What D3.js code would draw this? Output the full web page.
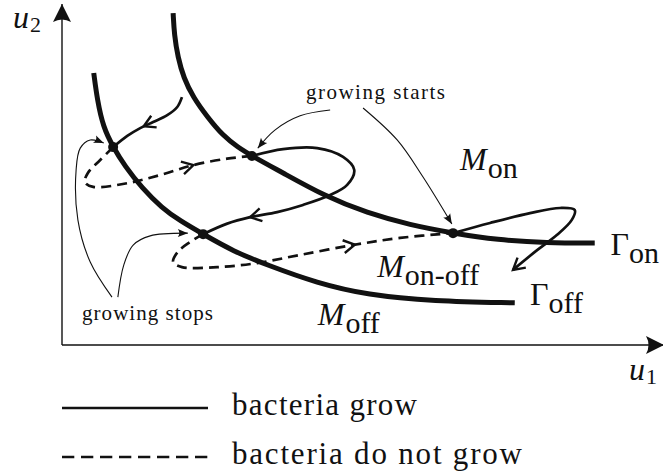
<!DOCTYPE html>
<html>
<head>
<meta charset="utf-8">
<script src="https://cdn.jsdelivr.net/npm/d3@7/dist/d3.min.js"></script>
<style>
  body { margin: 0; background: #fff; }
  svg { display: block; }
</style>
</head>
<body>
<svg id="chart" width="663" height="472"></svg>
<script>
/* global d3 */

// switching curves (u1, u2)
const gammaOn = [[1.89, 9.76], [1.91, 9.12], [1.97, 8.47], [2.07, 7.85], [2.23, 7.29], [2.47, 6.71],
  [2.74, 6.15], [2.99, 5.82], [3.23, 5.56], [3.76, 5.06], [4.47, 4.38], [5.19, 3.88], [5.92, 3.53],
  [6.65, 3.29], [7.40, 3.09], [8.25, 3.00], [9.06, 3.00]]
const gammaOff = [[0.54, 8.00], [0.60, 7.21], [0.70, 6.41], [0.87, 5.82], [1.07, 5.26], [1.36, 4.62],
  [1.70, 4.03], [2.01, 3.65], [2.40, 3.26], [2.91, 2.76], [3.49, 2.35], [4.34, 1.82], [5.19, 1.47],
  [6.31, 1.29], [7.70, 1.24]]

// trajectory pieces, solid = bacteria grow, dashed = do not grow
const trajA = [[2.04, 7.29], [1.96, 7.00], [1.79, 6.76], [1.55, 6.56], [1.33, 6.38], [1.11, 6.15], [0.87, 5.82]]
const trajB = [[0.87, 5.82], [0.65, 5.44], [0.44, 5.06], [0.39, 4.79], [0.53, 4.65], [1.11, 4.76],
  [1.67, 5.00], [2.23, 5.29], [2.81, 5.48], [3.23, 5.56]]
const trajC = [[3.23, 5.56], [3.76, 5.76], [4.34, 5.79], [4.78, 5.53], [4.97, 5.15], [4.85, 4.71],
  [4.56, 4.41], [4.10, 4.12], [3.66, 3.91], [3.20, 3.76], [2.81, 3.57], [2.40, 3.26]]
const trajD = [[2.40, 3.26], [2.18, 3.03], [1.97, 2.74], [1.89, 2.44], [2.04, 2.29], [2.64, 2.29],
  [3.32, 2.41], [4.05, 2.65], [4.95, 2.94], [5.75, 3.15], [6.65, 3.29]]
const trajE = [[6.65, 3.29], [7.28, 3.59], [7.96, 3.88], [8.47, 4.03], [8.72, 3.97], [8.67, 3.68],
  [8.42, 3.24], [8.08, 2.79], [7.67, 2.21]]

const switchPoints = [[0.87, 5.82], [3.23, 5.56], [2.40, 3.26], [6.65, 3.29]]

// annotation pointers
const startsPointers = [
  [[4.56, 6.91], [4.05, 6.74], [3.62, 6.32], [3.33, 5.79]],
  [[5.12, 6.97], [5.70, 6.03], [6.14, 4.94], [6.63, 3.56]]
]
const stopsPointers = [
  [[0.85, 1.41], [0.48, 2.44], [0.27, 3.68], [0.24, 5.15], [0.31, 5.79], [0.48, 6.03], [0.71, 5.94]],
  [[0.95, 1.41], [1.05, 2.35], [1.21, 2.94], [1.50, 3.21], [2.14, 3.29]]
]

const regionLabels = [
  { main: 'M', sub: 'on', at: [6.77, 5.15], italic: true },
  { main: 'M', sub: 'on-off', at: [5.36, 2.00], italic: true },
  { main: 'M', sub: 'off', at: [4.35, 0.59], italic: true },
  { main: 'Γ', sub: 'on', at: [9.33, 2.65], italic: false },
  { main: 'Γ', sub: 'off', at: [7.96, 1.18], italic: false }
]
const legendItems = ['bacteria grow', 'bacteria do not grow']

const svg = d3.select('#chart')
const font = "'Liberation Serif'"

const x = d3.scaleLinear().domain([0, 10]).range([62, 650])
const y = d3.scaleLinear().domain([0, 10]).range([345, 5])

const line = d3.line()
  .x(d => x(d[0]))
  .y(d => y(d[1]))
  .curve(d3.curveCatmullRom.alpha(0.5))
const smooth = d3.line()
  .x(d => x(d[0]))
  .y(d => y(d[1]))
  .curve(d3.curveBasis)

const defs = svg.append('defs')
defs.append('marker')
  .attr('id', 'axisHead')
  .attr('markerUnits', 'userSpaceOnUse')
  .attr('viewBox', '-19 -10 20 20')
  .attr('refX', 0).attr('refY', 0)
  .attr('markerWidth', 20).attr('markerHeight', 20)
  .attr('orient', 'auto')
  .append('path')
  .attr('d', 'M0,0 L-18,-9 Q-13,0 -18,9 Z')
  .attr('fill', '#111')
defs.append('marker')
  .attr('id', 'thinHead')
  .attr('markerUnits', 'userSpaceOnUse')
  .attr('viewBox', '-11 -5 12 10')
  .attr('refX', 0).attr('refY', 0)
  .attr('markerWidth', 12).attr('markerHeight', 10)
  .attr('orient', 'auto')
  .append('path')
  .attr('d', 'M0,0 L-10,-4 Q-7,0 -10,4 Z')
  .attr('fill', '#111')

// axes
svg.append('line')
  .attr('x1', x(0)).attr('y1', y(0)).attr('x2', x(0)).attr('y2', 4)
  .attr('stroke', '#111').attr('stroke-width', 1.4)
  .attr('marker-end', 'url(#axisHead)')
svg.append('line')
  .attr('x1', x(0)).attr('y1', y(0)).attr('x2', 664).attr('y2', y(0))
  .attr('stroke', '#111').attr('stroke-width', 1.4)
  .attr('marker-end', 'url(#axisHead)')

function mathLabel (px, py, main, sub, size, subSize, italic, shift) {
  const t = svg.append('text')
    .attr('x', px).attr('y', py)
    .style('font-family', font)
    .attr('fill', '#111')
  t.append('tspan')
    .text(main)
    .style('font-size', size + 'px')
    .style('font-style', italic ? 'italic' : 'normal')
  t.append('tspan')
    .text(sub)
    .attr('dx', italic ? 1 : 0)
    .attr('dy', shift)
    .style('font-size', subSize + 'px')
  return t
}
mathLabel(13, 28, 'u', '2', 32, 22, true, 4)
mathLabel(629, 380, 'u', '1', 32, 22, true, 4)

// switching curves
;[gammaOn, gammaOff].forEach(c => {
  svg.append('path')
    .attr('d', smooth(c))
    .attr('fill', 'none')
    .attr('stroke', '#111')
    .attr('stroke-width', 5)
})

// trajectory
const pieces = [
  { pts: trajA, dashed: false, arrow: [1.38, 6.47] },
  { pts: trajB, dashed: true, arrow: [2.23, 5.32] },
  { pts: trajC, dashed: false, arrow: [3.20, 3.76] },
  { pts: trajD, dashed: true, arrow: [4.98, 2.91] },
  { pts: trajE, dashed: false, arrow: 'end' }
]

function chevron (node, target) {
  const total = node.getTotalLength()
  let at = total
  if (target !== 'end') {
    let best = Infinity
    for (let s = 0; s <= total; s += 0.5) {
      const p = node.getPointAtLength(s)
      const d = Math.hypot(p.x - x(target[0]), p.y - y(target[1]))
      if (d < best) { best = d; at = s }
    }
  }
  const p = node.getPointAtLength(at)
  const q = node.getPointAtLength(Math.max(0, at - 3))
  const ang = Math.atan2(p.y - q.y, p.x - q.x)
  const len = 13
  const spread = 0.52
  const a1 = ang + Math.PI - spread
  const a2 = ang + Math.PI + spread
  return 'M' + (p.x + len * Math.cos(a1)) + ',' + (p.y + len * Math.sin(a1)) +
    'L' + p.x + ',' + p.y +
    'L' + (p.x + len * Math.cos(a2)) + ',' + (p.y + len * Math.sin(a2))
}

pieces.forEach(pc => {
  const path = svg.append('path')
    .attr('d', line(pc.pts))
    .attr('fill', 'none')
    .attr('stroke', '#111')
    .attr('stroke-width', 2.7)
    .attr('stroke-dasharray', pc.dashed ? '10,6' : null)
  svg.append('path')
    .attr('d', chevron(path.node(), pc.arrow))
    .attr('fill', 'none')
    .attr('stroke', '#111')
    .attr('stroke-width', 2.4)
    .attr('stroke-linejoin', 'miter')
})

svg.selectAll('circle.switch')
  .data(switchPoints)
  .enter().append('circle')
  .attr('class', 'switch')
  .attr('cx', d => x(d[0]))
  .attr('cy', d => y(d[1]))
  .attr('r', 5)
  .attr('fill', '#111')

// annotations
startsPointers.concat(stopsPointers).forEach(pts => {
  svg.append('path')
    .attr('d', line(pts))
    .attr('fill', 'none')
    .attr('stroke', '#111')
    .attr('stroke-width', 1.1)
    .attr('marker-end', 'url(#thinHead)')
})
svg.append('text')
  .text('growing starts')
  .attr('x', 306).attr('y', 99)
  .style('font-family', font)
  .style('font-size', '21px')
  .attr('textLength', 139)
  .attr('lengthAdjust', 'spacing')
  .attr('fill', '#111')
svg.append('text')
  .text('growing stops')
  .attr('x', 82).attr('y', 320)
  .style('font-family', font)
  .style('font-size', '21px')
  .attr('textLength', 131)
  .attr('lengthAdjust', 'spacing')
  .attr('fill', '#111')

regionLabels.forEach(l => {
  mathLabel(x(l.at[0]), y(l.at[1]), l.main, l.sub, 32, 30, l.italic, 8)
})

// legend
const legendY = [408, 457]
const legendBase = [415, 464]
const legendW = [185, 290]
legendItems.forEach((name, i) => {
  svg.append('line')
    .attr('x1', 62).attr('x2', 208)
    .attr('y1', legendY[i]).attr('y2', legendY[i])
    .attr('stroke', '#111')
    .attr('stroke-width', 2.6)
    .attr('stroke-dasharray', i === 1 ? '12.3,6.7' : null)
  svg.append('text')
    .text(name)
    .attr('x', 232).attr('y', legendBase[i])
    .style('font-family', font)
    .style('font-size', '31px')
    .attr('textLength', legendW[i])
    .attr('lengthAdjust', 'spacing')
    .attr('fill', '#111')
})
</script>
</body>
</html>
